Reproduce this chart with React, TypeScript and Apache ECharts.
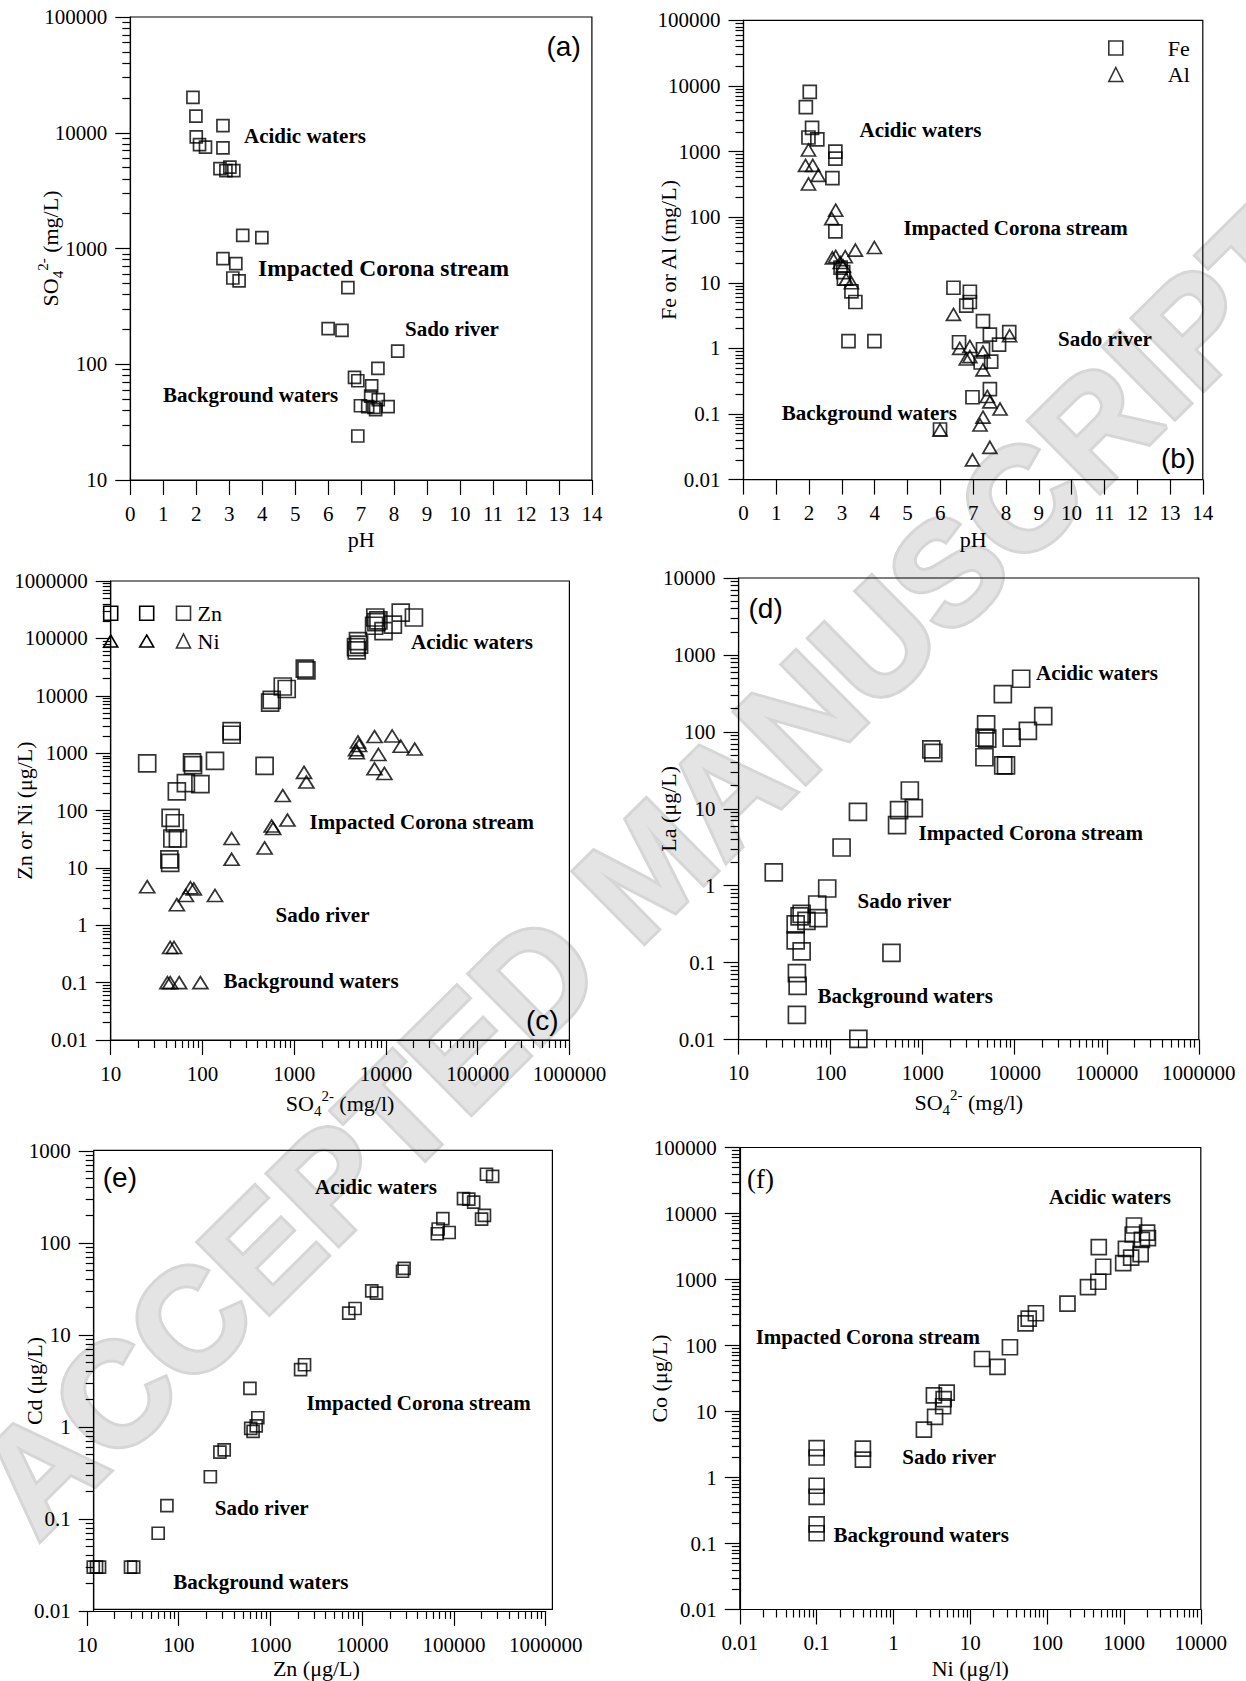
import { useEffect, useRef } from 'react';
import * as echarts from 'echarts';

const SERIF = '"Liberation Serif", "Times New Roman", Times, serif';
const SANS = '"Liberation Sans", Arial, Helvetica, sans-serif';

// ---------- (a) pH vs sulphate ----------
const phA = [1.9, 1.99, 2.81, 2.0, 2.1, 2.28, 2.81, 2.72, 2.9, 3.02, 3.14, 3.41, 3.99, 2.81, 3.2, 3.11, 3.3, 6.6, 6.0, 6.42, 8.11, 7.51, 6.8, 6.9, 7.32, 7.29, 7.52, 6.98, 7.2, 7.39, 7.44, 7.82, 6.9];
const so4A = [20200, 13900, 11500, 9200, 7900, 7500, 7400, 4900, 4700, 5050, 4700, 1300, 1240, 816, 740, 556, 525, 459, 203, 196, 130, 92, 77, 72, 65, 53, 49.5, 43.8, 43, 42.4, 40.6, 43, 24];

// ---------- (b) pH vs Fe and Al ----------
const phFeB = [2.02, 1.9, 2.09, 1.98, 2.25, 2.8, 2.8, 2.71, 2.8, 2.96, 3.04, 3.06, 3.29, 3.41, 3.2, 3.99, 6.4, 6.9, 6.9, 6.79, 7.3, 7.51, 8.1, 6.57, 7.79, 7.3, 7.23, 7.55, 7.51, 6.98, 5.99];
const feB = [8150, 4750, 2300, 1640, 1540, 1000, 780, 393, 61, 17, 14.5, 11.6, 7.4, 5.1, 1.29, 1.29, 8.4, 7.3, 5.1, 4.5, 2.6, 1.62, 1.77, 1.24, 1.14, 0.97, 0.61, 0.63, 0.24, 0.18, 0.058];
const phAlB = [1.98, 1.89, 2.11, 2.28, 1.98, 2.81, 2.69, 2.81, 2.71, 3.1, 3.41, 3.99, 2.95, 3.04, 3.13, 3.29, 6.4, 6.59, 6.9, 6.79, 6.9, 7.3, 7.3, 8.11, 7.43, 7.51, 7.82, 7.3, 7.21, 5.99, 7.51, 6.98];
const alB = [1057, 616, 616, 434, 321, 128, 95, 25.2, 24, 25, 31.5, 34.5, 20.4, 18, 11.3, 10, 3.3, 1.0, 1.07, 0.69, 0.75, 0.88, 0.47, 1.56, 0.185, 0.153, 0.119, 0.0895, 0.068, 0.057, 0.031, 0.02];

// ---------- (c) sulphate vs Zn and Ni ----------
const so4ZnC = [25, 52.6, 66, 77, 79, 95, 137, 208, 208, 476, 45, 50, 47, 54, 43.6, 44.5, 547, 569, 751, 829, 1305, 1360, 4720, 4960, 5100, 4810, 7660, 7880, 7430, 9420, 11900, 14500, 20200, 8280];
const znC = [661, 216, 300, 690, 617, 288, 731, 2410, 2090, 598, 74.6, 60, 32.5, 32.5, 14.1, 12.2, 7600, 8500, 14500, 13100, 29700, 27600, 70300, 89800, 77600, 61700, 231000, 192000, 166000, 134000, 174000, 282000, 231000, 206000];
const so4NiC = [25, 52.6, 66, 74, 80.5, 137, 44.5, 49, 41.5, 44.5, 55.8, 95, 208, 208, 476, 569, 590, 751, 845, 1280, 1360, 4720, 4960, 5100, 4810, 7510, 8280, 7510, 9620, 11700, 14500, 20600];
const niC = [4.7, 2.28, 3.3, 4.5, 4.3, 3.3, 0.41, 0.41, 0.1, 0.1, 0.1, 0.1, 32.5, 14.1, 22.3, 53.6, 48.5, 182, 68, 462, 313, 1140, 1570, 1360, 1017, 1940, 946, 533, 443, 1990, 1320, 1175];

// ---------- (d) sulphate vs La ----------
const so4LaD = [24.1, 131.5, 198, 527, 554, 801, 725, 1242, 1305, 4890, 4700, 5030, 4690, 7430, 11750, 7500, 8040, 9250, 13900, 20400, 91.8, 71.5, 48.4, 46, 54.6, 73.6, 41.7, 41.7, 48.4, 458, 43, 43.8, 43, 200];
const laD = [1.49, 3.14, 9.1, 6.15, 9.6, 10.2, 17.3, 59.3, 53.2, 125, 84.3, 81.7, 46.8, 310, 490, 36.6, 36.6, 84.3, 103, 160, 0.92, 0.57, 0.43, 0.4, 0.35, 0.38, 0.315, 0.195, 0.14, 0.134, 0.073, 0.05, 0.021, 0.0102];

// ---------- (e) Zn vs Cd ----------
const znE = [11.7, 12.7, 13.7, 29.8, 32.3, 59.7, 74.3, 221, 281, 313, 597, 609, 646, 699, 728, 2130, 2350, 7130, 8360, 12700, 14300, 27500, 28600, 65900, 67300, 75700, 88700, 127000, 145000, 164000, 200000, 215000, 226000, 264000];
const cdE = [0.03, 0.03, 0.03, 0.03, 0.03, 0.07, 0.14, 0.288, 0.534, 0.564, 2.63, 0.964, 0.897, 1.03, 1.26, 4.2, 4.75, 17.3, 19.4, 30.1, 28.5, 49.3, 53, 126, 142, 184, 130, 303, 300, 278, 182, 200, 559, 529];

// ---------- (f) Ni vs Co ----------
const niF = [0.1, 0.1, 0.1, 0.1, 0.1, 0.1, 0.4, 0.4, 2.49, 3.48, 3.36, 4.43, 4.5, 4.93, 14.2, 22.6, 32.8, 52.4, 57.6, 71.4, 184, 340, 464, 470, 536, 977, 1060, 1240, 1300, 1350, 1650, 1710, 2000, 2050];
const coF = [2.79, 2.01, 0.75, 0.51, 0.195, 0.143, 2.74, 1.87, 5.3, 8.3, 17.5, 12, 15.4, 19.3, 62.4, 47.4, 94, 217, 256, 308, 432, 767, 925, 3100, 1560, 1770, 2920, 2140, 4810, 6580, 2420, 3990, 5120, 4240];

// ---------- axis tick values ----------
const PH_TICKS = [0, 1, 2, 3, 4, 5, 6, 7, 8, 9, 10, 11, 12, 13, 14];
const SO4_TICKS_A = [10, 100, 1000, 10000, 100000];
const FE_AL_TICKS = [0.01, 0.1, 1, 10, 100, 1000, 10000, 100000];
const SO4_TICKS = [10, 100, 1000, 10000, 100000, 1000000];
const ZN_NI_TICKS = [0.01, 0.1, 1, 10, 100, 1000, 10000, 100000, 1000000];
const LA_TICKS = [0.01, 0.1, 1, 10, 100, 1000, 10000];
const ZN_TICKS = [10, 100, 1000, 10000, 100000, 1000000];
const CD_TICKS = [0.01, 0.1, 1, 10, 100, 1000];
const NI_TICKS = [0.01, 0.1, 1, 10, 100, 1000, 10000];
const CO_TICKS = [0.01, 0.1, 1, 10, 100, 1000, 10000, 100000];

const REGIONS = ['Acidic waters', 'Impacted Corona stream', 'Sado river', 'Background waters'];
const TAGS = ['(a)', '(b)', '(c)', '(d)', '(e)', '(f)'];

// ---------- layout ----------
const W = 1246;
const H = 1681;
const GRIDS = [
  { left: 130.3, top: 17, width: 461.6, height: 463 },
  { left: 743.5, top: 20.4, width: 459.3, height: 459.2 },
  { left: 110.7, top: 581, width: 458.7, height: 459 },
  { left: 738.6, top: 578, width: 460.2, height: 461.6 },
  { left: 87, top: 1151, width: 458.7, height: 460 },
  { left: 739.8, top: 1147.5, width: 461, height: 462 },
];
// panel (e): the frame sits a little right of its x axis
const FRAME_E = { x: 93.7, y: 1150.4, width: 458.7, height: 459 };
const E_Y_OFFSET = -6.7;

const REGION_POS = [
  [[244, 136], [258, 268], [405, 329], [163, 394.6]],
  [[859.5, 130.4], [903.4, 228], [1058, 339.3], [781.7, 412.5]],
  [[411, 642], [309.6, 822], [275.6, 914.6], [223.4, 981.4]],
  [[1036, 672.5], [918.6, 833.2], [857.5, 901], [817.6, 995.7]],
  [[315, 1187], [306.4, 1403.4], [214.7, 1508.2], [173.2, 1581.5]],
  [[1049, 1197], [755.7, 1336.5], [902.2, 1457], [833.6, 1535]],
];
const REGION_FONT = [
  [21, 23.5, 21, 21],
  [21, 21, 21, 21],
  [21, 21, 21, 21],
  [21, 21, 21, 21],
  [21, 21, 21, 21],
  [21, 21, 21, 21],
];
const TAG_POS = [[546.5, 46], [1161, 458], [526, 1020.7], [748.5, 608.2], [102.8, 1177.2], [747, 1179]];

const AXIS_LINE = { color: '#000', width: 1.2 };
const TICK_FONT = { fontFamily: SERIF, fontSize: 21, color: '#000' };
const NAME_RICH = {
  n: { fontFamily: SERIF, fontSize: 22, lineHeight: 30, color: '#000' },
  // tighter line box for the bottom-row axis titles near the page edge
  m: { fontFamily: SERIF, fontSize: 22, lineHeight: 22, color: '#000' },
  sub: { fontFamily: SERIF, fontSize: 15, lineHeight: 22, verticalAlign: 'bottom', color: '#000' },
  sup: { fontFamily: SERIF, fontSize: 15, lineHeight: 16, verticalAlign: 'top', color: '#000' },
};
const nameStyle = () => ({ rich: NAME_RICH, fontFamily: SERIF, fontSize: 22, color: '#000' });

function minorExponents(lo: number, hi: number): number[] {
  const out: number[] = [];
  for (let e = lo; e < hi; e++) {
    for (let k = 2; k <= 9; k++) out.push(e + Math.log10(k));
  }
  return out;
}

// A hidden log axis carries the data; two linear axes in exponent space draw
// the decade ticks/labels and the 2..9 minor ticks on top of it.
function logAxes(dim: 'x' | 'y', gridIndex: number, ticks: number[], name: string, nameGap: number, offset = 0) {
  const lo = Math.round(Math.log10(ticks[0]));
  const hi = Math.round(Math.log10(ticks[ticks.length - 1]));
  const position = dim === 'x' ? 'bottom' : 'left';
  const main = {
    type: 'log', logBase: 10, gridIndex, position, offset,
    min: ticks[0], max: ticks[ticks.length - 1], show: false, splitLine: { show: false },
  };
  const major = {
    type: 'value', gridIndex, position, offset, min: lo, max: hi, interval: 1,
    axisLine: { show: true, onZero: false, lineStyle: AXIS_LINE },
    axisTick: { show: true, inside: false, length: 15, lineStyle: AXIS_LINE },
    axisLabel: { show: true, margin: 23, ...TICK_FONT, formatter: (v: number) => String(ticks[Math.round(v - lo)]) },
    splitLine: { show: false },
    name, nameLocation: 'middle', nameGap, nameMoveOverlap: false, nameTextStyle: nameStyle(),
  };
  const minor = {
    type: 'value', gridIndex, position, offset, min: lo, max: hi,
    axisLine: { show: false, onZero: false },
    axisTick: { show: true, inside: false, length: 8, lineStyle: AXIS_LINE, customValues: minorExponents(lo, hi) },
    axisLabel: { show: false },
    splitLine: { show: false },
  };
  return [main, major, minor];
}

function phAxis(gridIndex: number, nameGap: number) {
  return {
    type: 'value', gridIndex, position: 'bottom',
    min: PH_TICKS[0], max: PH_TICKS[PH_TICKS.length - 1], interval: 1,
    axisLine: { show: true, onZero: false, lineStyle: AXIS_LINE },
    axisTick: { show: true, inside: false, length: 15, lineStyle: AXIS_LINE },
    axisLabel: { show: true, margin: 23, ...TICK_FONT },
    splitLine: { show: false },
    name: '{n|pH}', nameLocation: 'middle', nameGap, nameMoveOverlap: false, nameTextStyle: nameStyle(),
  };
}

function scatter(name: string, xs: number[], ys: number[], xi: number, yi: number, symbol: string, size: number | number[]) {
  return {
    type: 'scatter', name, xAxisIndex: xi, yAxisIndex: yi, symbol, symbolSize: size,
    data: xs.map((x, i) => [x, ys[i]]),
    itemStyle: { color: 'rgba(0,0,0,0)', borderColor: '#000', borderWidth: 1.7 },
    emphasis: { disabled: true }, silent: true, clip: false,
  };
}

function buildOption() {
  const xAxis: any[] = [];
  const yAxis: any[] = [];
  const add = (list: any[], axes: any[]) => { const i = list.length; list.push(...axes); return i; };

  const series: any[] = [];

  // (a)
  let xi = add(xAxis, [phAxis(0, 44)]);
  let yi = add(yAxis, logAxes('y', 0, SO4_TICKS_A, '{n|SO}{sub|4}{sup|2-}{n| (mg/L)}', 65));
  series.push(scatter('SO4', phA, so4A, xi, yi, 'rect', 12));

  // (b)
  xi = add(xAxis, [phAxis(1, 44.7)]);
  yi = add(yAxis, logAxes('y', 1, FE_AL_TICKS, '{n|Fe or Al (mg/L)}', 60.5));
  series.push(scatter('Fe', phFeB, feB, xi, yi, 'rect', 13));
  series.push(scatter('Al', phAlB, alB, xi, yi, 'triangle', [14, 12]));

  // (c)
  xi = add(xAxis, logAxes('x', 2, SO4_TICKS, '{n|SO}{sub|4}{sup|2-}{n| (mg/l)}', 48));
  yi = add(yAxis, logAxes('y', 2, ZN_NI_TICKS, '{n|Zn or Ni (μg/L)}', 71));
  series.push(scatter('Zn', so4ZnC, znC, xi, yi, 'rect', 17));
  series.push(scatter('Ni', so4NiC, niC, xi, yi, 'triangle', [15, 12]));

  // (d)
  xi = add(xAxis, logAxes('x', 3, SO4_TICKS, '{n|SO}{sub|4}{sup|2-}{n| (mg/l)}', 48));
  yi = add(yAxis, logAxes('y', 3, LA_TICKS, '{n|La (μg/L)}', 55.6));
  series.push(scatter('La', so4LaD, laD, xi, yi, 'rect', 17));

  // (e)
  xi = add(xAxis, logAxes('x', 4, ZN_TICKS, '{m|Zn (μg/L)}', 46));
  yi = add(yAxis, logAxes('y', 4, CD_TICKS, '{n|Cd (μg/L)}', 44, E_Y_OFFSET));
  series.push(scatter('Cd', znE, cdE, xi, yi, 'rect', 12));

  // (f)
  xi = add(xAxis, logAxes('x', 5, NI_TICKS, '{m|Ni (μg/l)}', 47.5));
  yi = add(yAxis, logAxes('y', 5, CO_TICKS, '{n|Co (μg/L)}', 65.8));
  series.push(scatter('Co', niF, coF, xi, yi, 'rect', 15));

  const graphics: any[] = [];

  graphics.push({
    type: 'text', x: 648, y: 868, rotation: 0.78, z: -10, silent: true,
    style: {
      text: 'ACCEPTED MANUSCRIPT', font: `bold 146px ${SANS}`,
      fill: '#e4e4e4', stroke: '#d6d6d6', lineWidth: 6,
      align: 'center', verticalAlign: 'middle', textAlign: 'center', textVerticalAlign: 'middle',
    },
  });

  REGION_POS.forEach((panel, p) => {
    panel.forEach(([x, y], k) => {
      graphics.push({
        type: 'text', x, y, z: 100, silent: true,
        style: {
          text: REGIONS[k], font: `bold ${REGION_FONT[p][k]}px ${SERIF}`, fill: '#000',
          align: 'left', verticalAlign: 'middle', textAlign: 'left', textVerticalAlign: 'middle',
        },
      });
    });
  });

  TAG_POS.forEach(([x, y], i) => {
    const serifTag = i === 5;
    graphics.push({
      type: 'text', x, y, z: 100, silent: true,
      style: {
        text: TAGS[i], font: serifTag ? `27px ${SERIF}` : `28px ${SANS}`, fill: '#000',
        align: 'left', verticalAlign: 'middle', textAlign: 'left', textVerticalAlign: 'middle',
      },
    });
  });

  // frame of panel (e)
  graphics.push({
    type: 'rect', z: 5, silent: true,
    shape: FRAME_E,
    style: { fill: 'none', stroke: '#000', lineWidth: 1.2 },
  });

  // extra symbol columns of the (c) key
  const keyStyle = { fill: 'none', stroke: '#000', lineWidth: 1.6 };
  [110.7, 146.7].forEach((cx) => {
    graphics.push({ type: 'rect', z: 100, silent: true, shape: { x: cx - 7, y: 613.3 - 7, width: 14, height: 14 }, style: keyStyle });
    graphics.push({
      type: 'polygon', z: 100, silent: true,
      shape: { points: [[cx, 641 - 6], [cx + 7, 641 + 6], [cx - 7, 641 + 6]] },
      style: keyStyle,
    });
  });

  const legendBase = {
    orient: 'vertical', itemWidth: 14, itemHeight: 14, padding: 0, selectedMode: false,
    itemStyle: { borderWidth: 1.6 },
    textStyle: { fontFamily: SERIF, fontSize: 22, color: '#000' },
  };

  return {
    animation: false,
    backgroundColor: '#fff',
    grid: GRIDS.map((g, i) => ({
      ...g, containLabel: false, outerBoundsMode: 'none',
      show: i !== 4, borderColor: '#000', borderWidth: 1.2, backgroundColor: 'transparent',
    })),
    xAxis,
    yAxis,
    legend: [
      {
        ...legendBase, data: ['Fe', 'Al'], left: 1108, top: 37, itemGap: 4.5,
        textStyle: { ...legendBase.textStyle, padding: [0, 0, 0, 40] },
      },
      {
        ...legendBase, data: ['Zn', 'Ni'], left: 175.7, top: 602.3, itemGap: 5.7,
        textStyle: { ...legendBase.textStyle, padding: [0, 0, 0, 2] },
      },
    ],
    series,
    graphic: { elements: graphics },
  };
}

export default function App() {
  const ref = useRef<HTMLDivElement>(null);
  useEffect(() => {
    if (!ref.current) return;
    const chart = echarts.init(ref.current, undefined, { renderer: 'svg', width: W, height: H });
    chart.setOption(buildOption() as any);
    return () => chart.dispose();
  }, []);
  return (
    <div
      ref={ref}
      style={{ position: 'fixed', left: 0, top: 0, width: W, height: H, background: '#fff' }}
    />
  );
}
